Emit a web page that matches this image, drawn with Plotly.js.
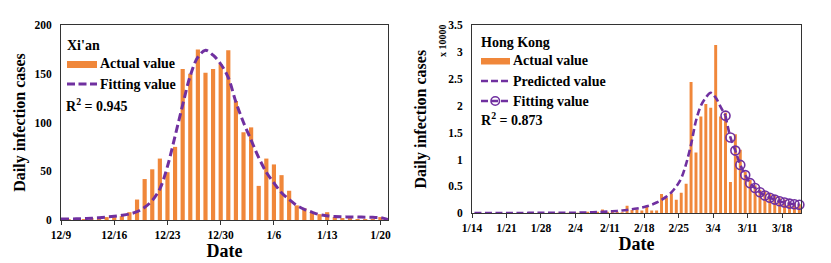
<!DOCTYPE html>
<html><head><meta charset="utf-8">
<script src="https://cdn.plot.ly/plotly-3.0.1.min.js"></script>
<style>html,body{margin:0;padding:0;background:#fff;} #chart{width:831px;height:263px;}</style>
</head><body><div id="chart"></div>
<script>
// ---------------- data ----------------
const xianStart = '2021-12-09';
const xianActual = [1,1,1,1,2,2,3,3,4,8,21,42,52,63,49,75,155,150,175,151,155,160,174,
  122,90,95,35,63,57,46,30,15,12,8,6,8,3,2,2,1,1,1,3];
const xianFit = [1,1,1.2,1.5,1.8,2.3,3,3.8,4.8,6.2,8.5,13,20,32,55,86,118,148,167,174,169,160,146,
  121,100,82,64,49,38,28,21,15,11,8,5.5,4.3,3.6,3.3,3.1,3,2.9,2.7,2.4,0.5];
const xianR2 = '0.945';

const hkStart = '2022-01-14';
const hkActual = [0.002,0.002,0.003,0.002,0.003,0.002,0.003,0.003,0.004,0.005,0.004,0.005,0.006,0.005,0.006,0.007,0.006,0.008,
  0.008,0.01,0.01,0.012,0.015,0.03,0.035,0.03,0.07,0.03,0.05,0.03,0.02,0.14,0.06,0.07,0.05,0.14,0.05,0.05,0.36,0.29,0.37,0.25,0.38,0.55,2.44,1.13,
  1.80,2.03,1.96,3.13,1.80,1.87,0.58,1.47,1.18,0.77,0.62,0.52,0.44,0.40,0.36,0.33,0.28,0.25,0.22,0.19,0.17];
const hkPredicted = [0.004,0.004,0.004,0.005,0.005,0.005,0.005,0.006,0.006,0.006,0.006,0.007,0.007,0.007,0.008,0.008,0.008,0.009,
  0.009,0.010,0.011,0.012,0.014,0.016,0.019,0.022,0.026,0.031,0.037,0.044,0.052,0.062,0.074,0.088,0.105,0.13,0.16,0.20,0.25,0.31,0.39,0.50,0.65,0.92,1.28,1.72,
  2.00,2.15,2.24,2.15,1.98,1.815];
const hkFitStart = '2022-03-06';
const hkFitting = [1.815,1.41,1.165,0.90,0.71,0.56,0.47,0.39,0.33,0.29,0.255,0.225,0.20,0.18,0.168,0.16];
const hkR2 = '0.873';

const xTickFormat = '%-m/%-d';
// --------------------------------------

const DAY = 86400000;
function dates(start, n){
  const t0 = Date.parse(start + 'T00:00:00Z');
  const out = [];
  for(let i=0;i<n;i++){ out.push(new Date(t0 + i*DAY).toISOString().slice(0,10)); }
  return out;
}
const W = 831, H = 263;
const px = x => x / W;
const py = y => 1 - y / H;

const ORANGE = '#F0873A';
const PURPLE = '#7030A0';
const FONT = 'Liberation Serif, Times New Roman, serif';
const AXC = '#333333';

const traces = [
  {type:'bar', x: dates(xianStart, xianActual.length), y: xianActual, width: 0.55*DAY,
   marker:{color:ORANGE}, xaxis:'x', yaxis:'y', name:'Actual value', showlegend:false},
  {type:'scatter', mode:'lines', x: dates(xianStart, xianFit.length), y: xianFit,
   line:{color:PURPLE, width:3, dash:'8px,4px', shape:'spline'}, xaxis:'x', yaxis:'y', name:'Fitting value', showlegend:false},
  {type:'bar', x: dates(hkStart, hkActual.length), y: hkActual, width: 0.6*DAY,
   xperiod: DAY, xperiodalignment:'middle',
   marker:{color:ORANGE}, xaxis:'x2', yaxis:'y2', name:'Actual value', showlegend:false},
  {type:'scatter', mode:'lines', x: dates(hkStart, hkPredicted.length), y: hkPredicted,
   xperiod: DAY, xperiodalignment:'middle',
   line:{color:PURPLE, width:2.6, dash:'7px,3.5px', shape:'spline'}, xaxis:'x2', yaxis:'y2', name:'Predicted value', showlegend:false},
  {type:'scatter', mode:'lines+markers', x: dates(hkFitStart, hkFitting.length), y: hkFitting,
   xperiod: DAY, xperiodalignment:'middle',
   line:{color:PURPLE, width:2.6, dash:'7px,3.5px', shape:'spline'},
   marker:{symbol:'circle-open', size:9, color:PURPLE, line:{width:1.6, color:PURPLE}},
   xaxis:'x2', yaxis:'y2', name:'Fitting value', showlegend:false, cliponaxis:false}
];

const tickFont = {family:FONT, size:11.5, color:'#000', weight:'bold'};
function xAxis(dom, r, tick0, anchor){
  return {domain: dom, range: r, type:'date', tickmode:'linear', tick0: tick0, dtick: 7*DAY,
    tickformat: xTickFormat, ticks:'outside', ticklen:4, tickcolor:AXC, tickwidth:1,
    showline:true, linecolor:AXC, linewidth:1, mirror:true, showgrid:false, zeroline:false,
    tickfont: tickFont, anchor: anchor,
    title:{text:'Date', font:{family:FONT, size:18, color:'#000', weight:'bold'}, standoff:3}};
}
function yAxis(dom, r, dt, anchor, standoff){
  return {domain: dom, range: r, dtick: dt, tick0:0, ticks:'', showline:true, linecolor:AXC, linewidth:1,
    mirror:true, showgrid:false, zeroline:false, tickfont: tickFont, anchor: anchor, ticklabelstandoff: 6,
    title:{text:'Daily infection cases', font:{family:FONT, size:16, color:'#000', weight:'bold'}, standoff: standoff}};
}

const legFont = {family:FONT, size:14, color:'#000', weight:'bold'};
function txt(text, x, y, extra){
  return Object.assign({xref:'paper', yref:'paper', x:px(x), y:py(y), text:text, showarrow:false,
    xanchor:'left', yanchor:'middle', font:legFont}, extra||{});
}
const annotations = [
  txt("Xi'an", 65, 45),
  txt('Actual value', 98, 64),
  txt('Fitting value', 98, 84),
  txt('R<sup>2</sup> = ' + xianR2, 64, 105),
  txt('Hong Kong', 479, 43),
  txt('Actual value', 511, 61),
  txt('Predicted value', 511, 81),
  txt('Fitting value', 511, 101),
  txt('R<sup>2</sup> = ' + hkR2, 479, 119),
  txt('x 10000', 443, 40, {textangle:-90, xanchor:'center', font:{family:FONT, size:10, color:'#000', weight:'bold'}})
];
function rect(x0,y0,x1,y1,color){
  return {type:'rect', xref:'paper', yref:'paper', x0:px(x0), x1:px(x1), y0:py(y1), y1:py(y0),
    fillcolor:color, line:{width:0}};
}
function hline(x0,x1,y,w,dash){
  return {type:'line', xref:'paper', yref:'paper', x0:px(x0), x1:px(x1), y0:py(y), y1:py(y),
    line:{color:PURPLE, width:w, dash:dash}};
}
const shapes = [
  rect(67,61,97,68,ORANGE),
  hline(67,97,84,3,'8px,3.5px'),
  rect(481,58,510,64.5,ORANGE),
  hline(481,510,81,2.6,'7px,3px'),
  hline(481,510,101,2.6,'7px,3px'),
  {type:'circle', xref:'paper', yref:'paper', x0:px(491), x1:px(499.5), y0:py(105.2), y1:py(96.8),
   line:{color:PURPLE, width:1.6}, fillcolor:'rgba(0,0,0,0)'}
];

const layout = {
  width: W, height: H, margin:{l:0, r:0, t:0, b:0}, paper_bgcolor:'#fff', plot_bgcolor:'#fff',
  showlegend:false,
  xaxis: xAxis([px(61), px(388)], ['2021-12-09','2022-01-21'], '2021-12-09', 'y'),
  yaxis: yAxis([py(220), py(25)], [0,200], 50, 'x', 4),
  xaxis2: xAxis([px(472), px(801)], ['2022-01-14','2022-03-21 20:00'], '2022-01-14', 'y2'),
  yaxis2: yAxis([py(213.3), py(25)], [0,3.5], 0.5, 'x2', 17),
  annotations: annotations,
  shapes: shapes
};

Plotly.newPlot('chart', traces, layout, {displayModeBar:false, staticPlot:true});
</script></body></html>
